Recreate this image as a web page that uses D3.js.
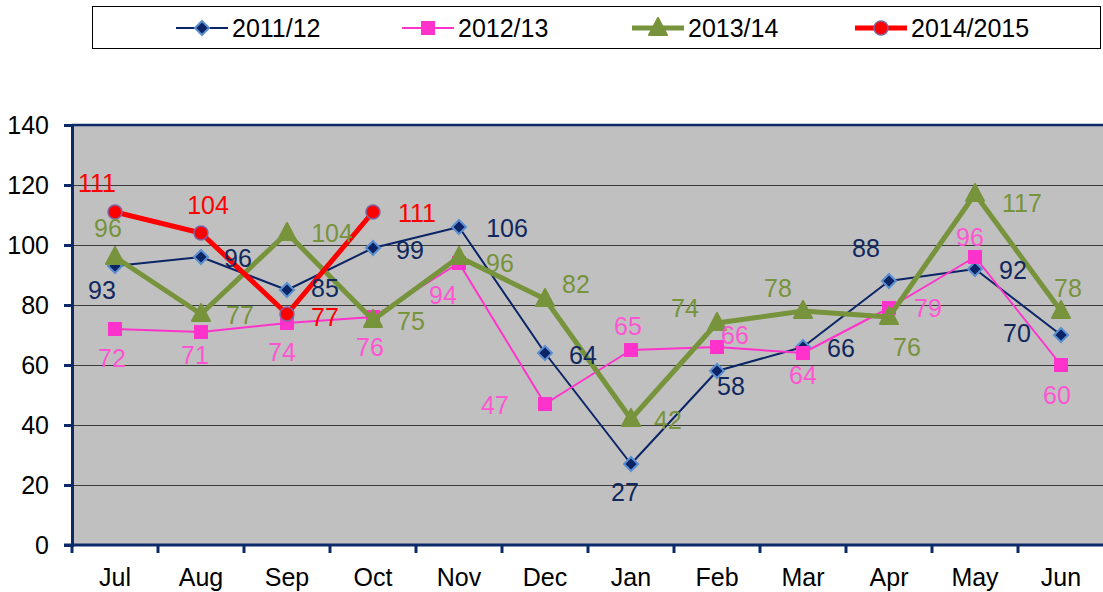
<!DOCTYPE html>
<html>
<head>
<meta charset="utf-8">
<script src="https://cdn.jsdelivr.net/npm/d3@7"></script>
<style>
  body { margin: 0; background: #fff; }
  text { font-family: "Liberation Sans", Arial, sans-serif; }
</style>
</head>
<body>
<div id="chart"></div>
<script>
/**
 * DATA
 * */
const months = ["Jul", "Aug", "Sep", "Oct", "Nov", "Dec", "Jan", "Feb", "Mar", "Apr", "May", "Jun"];
const seriesNames = ["2011/12", "2012/13", "2013/14", "2014/2015"];
const values2011 = [93, 96, 85, 99, 106, 64, 27, 58, 66, 88, 92, 70];
const values2012 = [72, 71, 74, 76, 94, 47, 65, 66, 64, 79, 96, 60];
const values2013 = [96, 77, 104, 75, 96, 82, 42, 74, 78, 76, 117, 78];
const values2014 = [111, 104, 77, 111];
const yTicks = [0, 20, 40, 60, 80, 100, 120, 140];

// where each data label sits relative to its point (dx, dy)
const labelPos2011 = [[-13,24],[37,1],[38,-2],[37,2],[48,1],[38,2],[-6,28],[14,15],[38,1],[-23,-33],[38,1],[-44,-2]];
const labelPos2012 = [[-3,29],[-6,23],[-5,29],[-3,30],[-16,32],[-50,1],[-3,-24],[18,-12],[0,22],[39,0],[-5,-20],[-4,30]];
const labelPos2013 = [[-7,-29],[39,1],[45,0],[38,1],[41,6],[31,-15],[37,1],[-32,-15],[-25,-23],[18,30],[47,9],[7,-23]];
const labelPos2014 = [[-18,-29],[7,-28],[38,3],[44,1]];

/**
 * CONSTANTS
 * */
const width = 1103, height = 592;
const margin = { top: 125, bottom: 47, left: 72, right: -1 };
const fontSize = 25;

const styles = [
  { line: "#0b2466", lw: 2, label: "#10285e", marker: "diamond" },
  { line: "#ff33cc", lw: 2, label: "#ff55d2", marker: "square" },
  { line: "#77933c", lw: 5, label: "#77933c", marker: "triangle" },
  { line: "#ff0000", lw: 5, label: "#ff0000", marker: "circle" }
];

const series = [values2011, values2012, values2013, values2014].map((v, i) => ({
  name: seriesNames[i],
  values: v,
  labels: [labelPos2011, labelPos2012, labelPos2013, labelPos2014][i],
  style: styles[i]
}));

const svg = d3.select("#chart").append("svg")
  .attr("width", width)
  .attr("height", height);

const x = d3.scaleBand().domain(months).range([margin.left, width - margin.right]);
const y = d3.scaleLinear().domain([0, 140]).range([height - margin.bottom, margin.top]);
const cx = m => x(m) + x.bandwidth() / 2;

// plot background
svg.append("rect")
  .attr("x", margin.left).attr("y", margin.top)
  .attr("width", width - margin.right - margin.left)
  .attr("height", y(0) - margin.top)
  .attr("fill", "#c0c0c0");

// gridlines
svg.append("g")
  .selectAll("line")
  .data(yTicks.filter(d => d > 0 && d < 140))
  .join("line")
  .attr("x1", margin.left).attr("x2", width)
  .attr("y1", d => Math.round(y(d)) + 0.5).attr("y2", d => Math.round(y(d)) + 0.5)
  .attr("stroke", "#3a3a3a").attr("stroke-width", 1.2);

// top border
svg.append("line")
  .attr("x1", margin.left).attr("x2", width)
  .attr("y1", y(140)).attr("y2", y(140))
  .attr("stroke", "#0c2a6a").attr("stroke-width", 2.5);

// y axis
const yAxis = svg.append("g")
  .attr("transform", `translate(${margin.left},0)`)
  .call(d3.axisLeft(y).tickValues(yTicks).tickSize(8).tickPadding(15));
yAxis.select(".domain").attr("stroke", "#0c2a6a").attr("stroke-width", 3);
yAxis.selectAll(".tick line").attr("stroke", "#0c2a6a").attr("stroke-width", 3);
yAxis.selectAll(".tick text").attr("font-size", fontSize).attr("fill", "#000")
  .attr("font-family", "Liberation Sans, Arial, sans-serif");

// x axis: ticks on band boundaries
const xAxis = svg.append("g")
  .attr("transform", `translate(0,${y(0)})`);
xAxis.append("line")
  .attr("x1", margin.left - 8).attr("x2", width)
  .attr("stroke", "#0c2a6a").attr("stroke-width", 3);
xAxis.selectAll(".xt")
  .data(months)
  .join("line")
  .attr("class", "xt")
  .attr("x1", d => x(d)).attr("x2", d => x(d))
  .attr("y1", 0).attr("y2", 8)
  .attr("stroke", "#0c2a6a").attr("stroke-width", 3);
xAxis.selectAll(".xl")
  .data(months)
  .join("text")
  .attr("class", "xl")
  .attr("x", d => cx(d))
  .attr("y", 41)
  .attr("text-anchor", "middle")
  .attr("font-size", fontSize)
  .attr("fill", "#000")
  .text(d => d);

// marker drawing
function drawMarker(g, type, color) {
  if (type === "diamond") {
    g.append("path").attr("d", "M0,-7L7,0L0,7L-7,0Z")
      .attr("fill", "#0b2466").attr("stroke", "#5b8fd0").attr("stroke-width", 2);
  } else if (type === "square") {
    g.append("rect").attr("x", -7).attr("y", -7).attr("width", 14).attr("height", 14)
      .attr("fill", color);
  } else if (type === "triangle") {
    g.append("path").attr("d", "M0,-10L9,7L-9,7Z")
      .attr("fill", color).attr("stroke", color).attr("stroke-width", 2).attr("stroke-linejoin", "round");
  } else {
    g.append("circle").attr("r", 7)
      .attr("fill", color).attr("stroke", "#8064a2").attr("stroke-width", 1.5);
  }
}

const line = d3.line().x(d => cx(d.m)).y(d => y(d.v));

series.forEach(s => {
  const pts = s.values.map((v, i) => ({ m: months[i], v: v, off: s.labels[i] }));
  const g = svg.append("g");
  g.append("path")
    .attr("d", line(pts))
    .attr("fill", "none")
    .attr("stroke", s.style.line)
    .attr("stroke-width", s.style.lw)
    .attr("stroke-linejoin", "round");
  g.selectAll(".mk")
    .data(pts)
    .join("g")
    .attr("class", "mk")
    .attr("transform", d => `translate(${cx(d.m)},${y(d.v)})`)
    .each(function () { drawMarker(d3.select(this), s.style.marker, s.style.line); });
  s.pts = pts;
});

// data labels on top
series.forEach(s => {
  svg.append("g").selectAll("text")
    .data(s.pts)
    .join("text")
    .attr("x", d => cx(d.m) + d.off[0])
    .attr("y", d => y(d.v) + d.off[1])
    .attr("dy", "0.36em")
    .attr("text-anchor", "middle")
    .attr("font-size", fontSize)
    .attr("fill", s.style.label)
    .text(d => d.v);
});

// legend
const legend = svg.append("g");
legend.append("rect")
  .attr("x", 92.5).attr("y", 6.5).attr("width", 1008).attr("height", 42)
  .attr("fill", "#fff").attr("stroke", "#000").attr("stroke-width", 1);
const legendX = [176, 402, 632, 855];
series.forEach((s, i) => {
  const lg = legend.append("g").attr("transform", `translate(${legendX[i]},28)`);
  lg.append("line").attr("x1", 0).attr("x2", 52)
    .attr("stroke", s.style.line).attr("stroke-width", s.style.lw);
  const mg = lg.append("g").attr("transform", "translate(26,0)");
  drawMarker(mg, s.style.marker, s.style.line);
  lg.append("text")
    .attr("x", 56).attr("dy", "0.36em")
    .attr("font-size", fontSize).attr("fill", "#000")
    .text(s.name);
});
</script>
</body>
</html>
